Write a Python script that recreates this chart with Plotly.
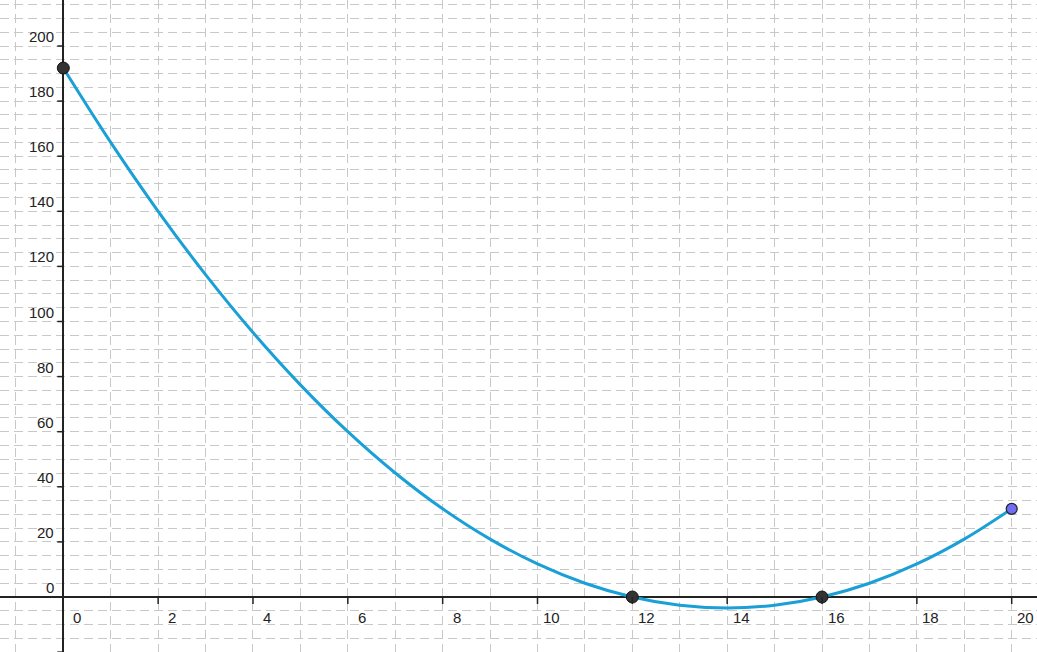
import plotly.graph_objects as go

# Values
curve_x = [0, 1, 2, 3, 4, 5, 6, 7, 8, 9, 10, 11, 12, 13, 14, 15, 16, 17, 18, 19, 20]
curve_y = [192, 165, 140, 117, 96, 77, 60, 45, 32, 21, 12, 5, 0, -3, -4, -3, 0, 5, 12, 21, 32]

black_pts_x = [0, 12, 16]
black_pts_y = [192, 0, 0]
end_pt_x = [20]
end_pt_y = [32]

x_ticks = [0, 2, 4, 6, 8, 10, 12, 14, 16, 18, 20]
y_ticks = [-20, 0, 20, 40, 60, 80, 100, 120, 140, 160, 180, 200]

W, H = 1037, 652
UX, OX = 47.42, 63.3      # px per x unit, origin x pixel
UY, OY = 2.755, 597.0     # px per y unit, origin y pixel
X_RANGE = [(0 - OX) / UX, (W - OX) / UX]
Y_RANGE = [(OY - H) / UY, (OY - 0) / UY]
px_x = 1 / UX
px_y = 1 / UY

fig = go.Figure()

fig.add_trace(go.Scatter(
    x=curve_x, y=curve_y, mode="lines",
    line=dict(color="#1a9fd6", width=3, shape="spline", smoothing=1.0),
    hoverinfo="skip", showlegend=False))

fig.add_trace(go.Scatter(
    x=black_pts_x, y=black_pts_y, mode="markers",
    marker=dict(size=12, color="#333333", line=dict(color="#111111", width=1)),
    showlegend=False))
fig.add_trace(go.Scatter(
    x=end_pt_x, y=end_pt_y, mode="markers",
    marker=dict(size=11, color="#6f6ff5", line=dict(color="#222222", width=1.2)),
    showlegend=False))

shapes = []
for t in x_ticks:
    if t == 0:
        continue
    shapes.append(dict(type="line", xref="x", yref="y", x0=t, x1=t,
                       y0=0, y1=-7 * px_y, line=dict(color="#222222", width=1.5)))
for t in y_ticks:
    if t == 0:
        continue
    shapes.append(dict(type="line", xref="x", yref="y", y0=t, y1=t,
                       x0=0, x1=-6 * px_x, line=dict(color="#222222", width=1.5)))

FONT = dict(family="Liberation Sans, Arial", size=15, color="#222222")
annotations = []
for t in x_ticks:
    annotations.append(dict(x=t, y=0, xref="x", yref="y", text=str(t),
                            showarrow=False, xanchor="center", yanchor="top",
                            xshift=14, yshift=-10, font=FONT))
for t in y_ticks:
    annotations.append(dict(x=0, y=t, xref="x", yref="y", text=str(t),
                            showarrow=False, xanchor="right", yanchor="bottom",
                            xshift=-7, yshift=-1, font=FONT))

fig.update_layout(
    width=W, height=H,
    margin=dict(l=0, r=0, t=0, b=0),
    paper_bgcolor="white", plot_bgcolor="white",
    shapes=shapes, annotations=annotations,
    xaxis=dict(range=X_RANGE, dtick=1, tick0=0, showticklabels=False, ticks="",
               showgrid=True, gridcolor="#c8c8c8", gridwidth=1, griddash="9px,5px",
               zeroline=True, zerolinecolor="#222222", zerolinewidth=1.5,
               showline=False, fixedrange=True),
    yaxis=dict(range=Y_RANGE, dtick=5, tick0=0, showticklabels=False, ticks="",
               showgrid=True, gridcolor="#c8c8c8", gridwidth=1, griddash="9px,5px",
               zeroline=True, zerolinecolor="#222222", zerolinewidth=1.5,
               showline=False, fixedrange=True),
)

fig.write_html("out.html",
               config={"displayModeBar": False},
               post_script="document.body.style.margin='0';document.body.style.overflow='hidden';")
